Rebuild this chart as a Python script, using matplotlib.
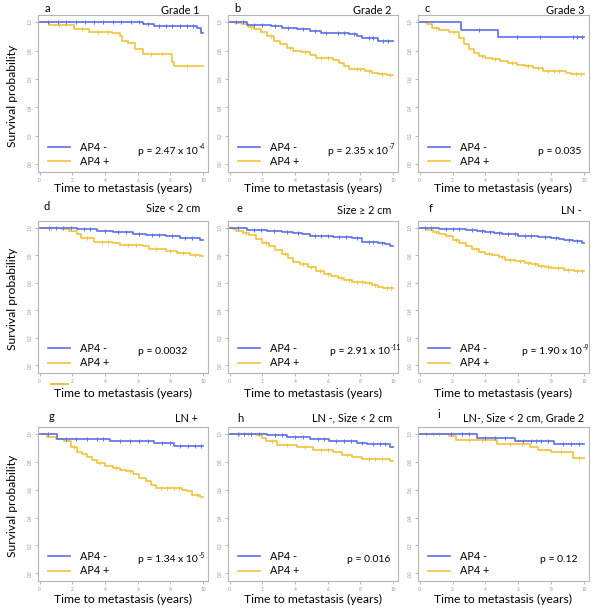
import numpy as np
import matplotlib
matplotlib.use("Agg")
import matplotlib.pyplot as plt
from matplotlib.lines import Line2D

plt.rcParams['font.family'] = ['Lato', 'DejaVu Sans']

# ---------------- data ----------------
PANEL_LETTERS = ["a", "b", "c", "d", "e", "f", "g", "h", "i"]
PANEL_TITLES = ["Grade 1", "Grade 2", "Grade 3",
                "Size < 2 cm", "Size \u2265 2 cm", "LN -",
                "LN +", "LN -, Size < 2 cm", "LN-, Size < 2 cm, Grade 2"]
P_BASE = ["p = 2.47 x 10", "p = 2.35 x 10", "p = 0.035",
          "p = 0.0032", "p = 2.91 x 10", "p = 1.90 x 10",
          "p = 1.34 x 10", "p = 0.016", "p = 0.12"]
P_EXP = ["-4", "-7", "", "", "-11", "-9", "-5", "", ""]
LEGEND_LABELS = ["AP4 -", "AP4 +"]
X_TICKS = [0, 2, 4, 6, 8, 10]
Y_TICKS = [0.0, 0.2, 0.4, 0.6, 0.8, 1.0]
X_LABEL = "Time to metastasis (years)"
Y_LABEL = "Survival probability"

A_NEG_T = [6.3, 7.0, 9.6, 9.9]
A_NEG_S = [0.984, 0.975, 0.955, 0.92]
A_NEG_C = [0.5, 1.1, 1.6, 2.2, 2.8, 3.3, 3.9, 4.5, 5.0, 5.6, 6.1, 6.6, 7.3, 7.7, 8.1, 8.6, 9.0, 9.4]
A_POS_T = [0.55, 2.1, 3.0, 4.45, 4.9, 5.05, 5.4, 5.85, 6.35, 8.1, 8.2]
A_POS_S = [0.977, 0.95, 0.93, 0.92, 0.905, 0.87, 0.85, 0.81, 0.775, 0.72, 0.69]
A_POS_C = [1.2, 2.6, 3.6, 4.2, 6.8, 7.5, 9.0]

B_NEG_T = [1.08, 2.5, 3.2, 4.1, 4.9, 5.6, 6.3, 7.3, 7.8, 8.1, 9.1]
B_NEG_S = [0.977, 0.97, 0.96, 0.948, 0.935, 0.925, 0.92, 0.913, 0.9, 0.887, 0.87]
B_NEG_C = [0.4, 0.8, 1.5, 2.0, 2.8, 3.6, 4.5, 5.2, 5.9, 6.6, 7.0, 7.6, 8.5, 8.8, 9.4, 9.7]
B_POS_T = [0.3, 0.7, 1.1, 1.5, 1.9, 2.3, 2.7, 3.1, 3.5, 3.9, 4.4, 4.9, 5.3, 6.3, 6.7, 7.0, 7.3, 8.3, 8.7, 9.1, 9.6]
B_POS_S = [0.995, 0.985, 0.967, 0.95, 0.93, 0.9, 0.868, 0.845, 0.82, 0.8, 0.79, 0.77, 0.745, 0.735, 0.71, 0.69, 0.67, 0.656, 0.645, 0.634, 0.625]
B_POS_C = [1.3, 2.5, 3.7, 4.6, 5.6, 6.0, 7.8, 8.0, 8.5, 9.3, 9.8]

C_NEG_T = [2.53, 4.79]
C_NEG_S = [0.946, 0.892]
C_NEG_C = [3.6, 5.9, 7.3, 9.3, 9.6, 9.9]
C_POS_T = [0.45, 0.75, 1.2, 1.8, 2.4, 2.7, 3.0, 3.3, 3.6, 4.0, 4.4, 4.9, 5.4, 5.9, 6.4, 6.9, 7.5, 8.9, 9.2]
C_POS_S = [0.985, 0.96, 0.945, 0.927, 0.885, 0.845, 0.81, 0.785, 0.76, 0.75, 0.74, 0.725, 0.71, 0.7, 0.69, 0.677, 0.653, 0.64, 0.632]
C_POS_C = [1.0, 2.1, 3.8, 4.6, 5.6, 6.6, 7.2, 7.8, 8.2, 8.5, 9.5, 9.8]

D_NEG_T = [2.3, 3.5, 4.5, 5.7, 6.5, 7.7, 8.6, 9.8]
D_NEG_S = [0.993, 0.977, 0.967, 0.958, 0.95, 0.942, 0.93, 0.915]
D_NEG_C = [0.6, 1.0, 1.4, 1.9, 2.7, 3.1, 4.0, 4.8, 5.3, 6.1, 6.9, 7.3, 8.1, 8.9, 9.3]
D_POS_T = [1.3, 1.8, 2.3, 2.5, 3.3, 4.5, 4.9, 6.3, 6.7, 7.7, 8.4, 9.2, 9.8]
D_POS_S = [0.99, 0.975, 0.958, 0.925, 0.9, 0.888, 0.877, 0.865, 0.847, 0.83, 0.814, 0.805, 0.797]
D_POS_C = [0.7, 2.9, 3.8, 4.2, 5.4, 5.9, 7.1, 8.0, 8.8, 9.5]

E_NEG_T = [1.05, 2.3, 3.2, 3.9, 4.4, 4.9, 6.3, 7.5, 8.1, 9.1, 9.5, 9.8]
E_NEG_S = [0.985, 0.977, 0.97, 0.963, 0.952, 0.942, 0.935, 0.928, 0.9, 0.893, 0.88, 0.865]
E_NEG_C = [0.5, 1.5, 1.9, 2.7, 3.5, 4.2, 5.2, 5.6, 6.0, 6.7, 7.1, 7.8, 8.5, 8.8, 9.3]
E_POS_T = [0.2, 0.4, 0.8, 1.2, 1.6, 2.0, 2.4, 2.8, 3.2, 3.6, 3.9, 4.3, 4.8, 5.3, 5.8, 6.2, 6.6, 7.0, 7.5, 8.3, 8.7, 9.1, 9.4]
E_POS_S = [0.99, 0.977, 0.96, 0.946, 0.92, 0.89, 0.865, 0.84, 0.81, 0.78, 0.75, 0.735, 0.714, 0.69, 0.668, 0.65, 0.633, 0.62, 0.605, 0.598, 0.585, 0.568, 0.56]
E_POS_C = [1.0, 2.2, 3.4, 4.5, 5.0, 5.5, 6.0, 6.8, 7.3, 7.8, 8.1, 8.5, 8.9, 9.6, 9.9]

F_NEG_T = [1.2, 2.8, 3.5, 4.0, 4.5, 5.0, 6.0, 7.2, 8.0, 8.5, 8.8, 9.3, 9.9]
F_NEG_S = [0.99, 0.986, 0.978, 0.97, 0.962, 0.953, 0.944, 0.935, 0.93, 0.92, 0.911, 0.905, 0.888]
F_NEG_C = [0.3, 0.7, 1.6, 2.0, 2.4, 3.2, 3.8, 4.3, 4.8, 5.4, 5.8, 6.4, 6.8, 7.6, 8.3, 9.1, 9.6]
F_POS_T = [0.45, 0.8, 1.2, 1.6, 2.0, 2.4, 2.8, 3.2, 3.6, 4.0, 4.4, 4.8, 5.2, 5.8, 6.4, 6.8, 7.2, 7.6, 8.0, 8.8, 9.4]
F_POS_S = [0.986, 0.972, 0.958, 0.94, 0.915, 0.888, 0.865, 0.845, 0.823, 0.81, 0.8, 0.785, 0.767, 0.758, 0.748, 0.735, 0.724, 0.714, 0.706, 0.696, 0.688]
F_POS_C = [1.0, 2.2, 3.4, 4.2, 5.0, 5.5, 6.1, 6.6, 7.0, 7.4, 7.8, 8.4, 9.0, 9.6, 9.9]

G_NEG_T = [1.07, 4.3, 7.0, 8.2]
G_NEG_S = [0.967, 0.948, 0.932, 0.913]
G_NEG_C = [0.5, 1.6, 2.2, 2.9, 3.5, 3.9, 4.9, 5.5, 6.1, 6.6, 7.5, 8.0, 8.6, 9.1, 9.5, 9.9]
G_POS_T = [0.47, 1.0, 1.5, 1.9, 2.3, 2.6, 2.9, 3.2, 3.5, 4.0, 4.5, 4.9, 5.3, 5.7, 6.1, 6.5, 6.8, 7.1, 8.7, 9.0, 9.3, 9.8]
G_POS_S = [0.98, 0.965, 0.948, 0.91, 0.873, 0.855, 0.837, 0.81, 0.79, 0.772, 0.755, 0.745, 0.731, 0.71, 0.684, 0.66, 0.635, 0.613, 0.6, 0.59, 0.565, 0.547]
G_POS_C = [2.1, 3.7, 4.7, 5.5, 7.4, 7.8, 8.2, 8.5, 9.6]

H_NEG_T = [2.3, 3.5, 4.9, 6.1, 7.8, 8.4, 9.8]
H_NEG_S = [0.99, 0.979, 0.962, 0.948, 0.932, 0.925, 0.905]
H_NEG_C = [0.5, 0.9, 1.3, 1.8, 2.8, 3.2, 4.0, 4.5, 5.4, 5.8, 6.5, 7.0, 7.4, 8.1, 8.8, 9.2, 9.5]
H_POS_T = [1.6, 2.0, 2.2, 2.9, 4.1, 5.1, 6.3, 6.9, 7.5, 8.1, 9.8]
H_POS_S = [0.99, 0.97, 0.948, 0.92, 0.908, 0.885, 0.873, 0.85, 0.838, 0.822, 0.803]
H_POS_C = [0.6, 1.1, 2.6, 3.5, 4.6, 5.6, 6.0, 7.2, 8.5, 8.9, 9.3]

I_NEG_T = [3.5, 5.8, 8.2]
I_NEG_S = [0.972, 0.948, 0.925]
I_NEG_C = [1.9, 2.6, 3.0, 4.0, 4.6, 5.2, 6.3, 6.8, 7.1, 7.4, 7.8, 8.7, 9.2, 9.7]
I_POS_T = [1.8, 2.2, 4.7, 6.7, 7.2, 8.0, 9.3]
I_POS_S = [0.985, 0.955, 0.925, 0.908, 0.885, 0.87, 0.826]
I_POS_C = [0.4, 0.8, 1.2, 3.0, 3.8, 5.5, 6.2, 8.6, 9.7]

NEG_T = [A_NEG_T, B_NEG_T, C_NEG_T, D_NEG_T, E_NEG_T, F_NEG_T, G_NEG_T, H_NEG_T, I_NEG_T]
NEG_S = [A_NEG_S, B_NEG_S, C_NEG_S, D_NEG_S, E_NEG_S, F_NEG_S, G_NEG_S, H_NEG_S, I_NEG_S]
NEG_C = [A_NEG_C, B_NEG_C, C_NEG_C, D_NEG_C, E_NEG_C, F_NEG_C, G_NEG_C, H_NEG_C, I_NEG_C]
POS_T = [A_POS_T, B_POS_T, C_POS_T, D_POS_T, E_POS_T, F_POS_T, G_POS_T, H_POS_T, I_POS_T]
POS_S = [A_POS_S, B_POS_S, C_POS_S, D_POS_S, E_POS_S, F_POS_S, G_POS_S, H_POS_S, I_POS_S]
POS_C = [A_POS_C, B_POS_C, C_POS_C, D_POS_C, E_POS_C, F_POS_C, G_POS_C, H_POS_C, I_POS_C]

# ---------------- layout (pixels) ----------------
W, H = 600, 612
BLUE = "#5b70e9"
YELLOW = "#f2c23e"
GREY = "#9a9a9a"
COLS = [(38, 208), (228, 398), (418, 589)]
ROWS = [(15, 172), (221, 373), (427, 581)]
XLABEL_OFF = [16, 20, 18]
LETTER_XY = [(47, 8), (237, 8), (427, 8), (47, 207), (239, 208), (431, 208),
             (51, 417), (240, 418), (439, 415)]
TITLE_RIGHT = [199, 391, 585, 200, 391, 582, 198, 392, 584]
TITLE_Y = [10, 10, 10, 209, 210, 210, 418, 418, 418]
P_LEFT = [138, 328, 538, 138, 330, 522, 138, 347, 540]

fig = plt.figure(figsize=(W / 100, H / 100), dpi=100)


def fx(x):
    return x / W


def fy(y):
    return 1 - y / H


def km(t, s):
    tt = np.r_[0.0, np.asarray(t, float), 10.0]
    ss = np.r_[1.0, np.asarray(s, float), s[-1]]
    return tt, ss


def surv_at(t, s, c):
    idx = np.searchsorted(np.asarray(t, float), np.asarray(c, float), side="right")
    return np.r_[1.0, np.asarray(s, float)][idx]


for k in range(9):
    r, cidx = divmod(k, 3)
    l, rr = COLS[cidx]
    top, bot = ROWS[r]
    ax = fig.add_axes([fx(l), fy(bot), (rr - l) / W, (bot - top) / H])
    tt, ss = km(NEG_T[k], NEG_S[k])
    ax.step(tt, ss, where="post", color=BLUE, lw=1.2, label=LEGEND_LABELS[0], zorder=3)
    ax.plot(NEG_C[k], surv_at(NEG_T[k], NEG_S[k], NEG_C[k]), "|", color=BLUE,
            ms=2.5, mew=0.7, zorder=3)
    tt, ss = km(POS_T[k], POS_S[k])
    ax.step(tt, ss, where="post", color=YELLOW, lw=1.2, label=LEGEND_LABELS[1], zorder=2)
    ax.plot(POS_C[k], surv_at(POS_T[k], POS_S[k], POS_C[k]), "|", color=YELLOW,
            ms=2.5, mew=0.7, zorder=2)

    ax.set_xlim(-0.1, 10.3)
    ax.set_ylim(-0.055, 1.05)
    ax.set_xticks(X_TICKS)
    ax.set_yticks(Y_TICKS)
    ax.set_xticklabels([str(v) for v in X_TICKS])
    ax.set_yticklabels(["%.1f" % v for v in Y_TICKS], rotation=90, va="center")
    ax.tick_params(labelsize=3.5, colors=GREY, length=2, width=0.5, pad=2)
    for sp in ax.spines.values():
        sp.set_color("#b5b5b5")
        sp.set_linewidth(0.8)

    ax.legend(loc="lower left", bbox_to_anchor=(0.06, 0.03), frameon=False,
              fontsize=7.8, handlelength=2.0, handletextpad=0.9,
              labelspacing=0.3, borderpad=0, borderaxespad=0)
    base = fig.text(fx(P_LEFT[k]), fy(bot - 21), P_BASE[k], fontsize=7.5,
                    ha="left", va="center")
    if P_EXP[k]:
        ax.annotate(P_EXP[k], xy=(1.0, 0.95), xycoords=base, fontsize=4.8,
                    ha="left", va="center", xytext=(0.6, 0), textcoords="offset points")

    lx, ly = LETTER_XY[k]
    fig.text(fx(lx), fy(ly), PANEL_LETTERS[k], fontsize=8, ha="center", va="center")
    fig.text(fx(TITLE_RIGHT[k]), fy(TITLE_Y[k]), PANEL_TITLES[k], fontsize=7.8,
             ha="right", va="center")
    fig.text(fx((l + rr) / 2), fy(bot + XLABEL_OFF[r]), X_LABEL, fontsize=8.7,
             ha="center", va="center")
    if cidx == 0:
        fig.text(fx(13), fy((top + bot) / 2 + 2), Y_LABEL, fontsize=8.7, rotation=90,
                 ha="center", va="center")

# small stray orange stroke under panel d (present in the original figure)
fig.add_artist(Line2D([fx(51), fx(68)], [fy(384), fy(384)], color="#f0b020", lw=1.2))

fig.savefig("out.png", dpi=100, facecolor="white")
